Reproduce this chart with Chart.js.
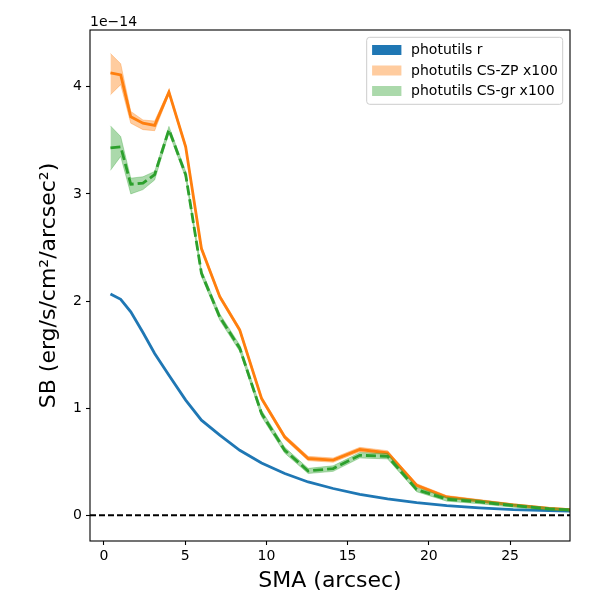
<!DOCTYPE html>
<html>
<head>
<meta charset="utf-8">
<script src="https://cdn.jsdelivr.net/npm/chart.js@4/dist/chart.umd.min.js"></script>
<style>
  html, body { margin: 0; padding: 0; background: #fff; }
  #wrap { width: 600px; height: 600px; position: relative; }
</style>
</head>
<body>
<div id="wrap"><canvas id="sbChart"></canvas></div>
<script>
// surface brightness profiles, values in units of 1e-14
const sma = [0.4, 1.03, 1.65, 2.4, 3.12, 4.0, 5.03, 6.0, 7.13, 8.36, 9.7, 11.13, 12.57, 14.11, 15.75, 17.46, 19.25, 21.1, 23.1, 25.2, 27.4, 29.8];

const photR = [2.065, 2.016, 1.90, 1.706, 1.51, 1.307, 1.075, 0.888, 0.748, 0.607, 0.489, 0.39, 0.311, 0.25, 0.196, 0.153, 0.118, 0.09, 0.07, 0.052, 0.043, 0.035];

const csZP = [4.13, 4.11, 3.72, 3.66, 3.64, 3.95, 3.44, 2.49, 2.04, 1.73, 1.09, 0.73, 0.53, 0.515, 0.614, 0.583, 0.28, 0.171, 0.135, 0.096, 0.065, 0.04];
const csZPLo = [3.925, 4.02, 3.66, 3.60, 3.59, 3.93, 3.42, 2.47, 2.02, 1.71, 1.07, 0.71, 0.51, 0.495, 0.594, 0.563, 0.265, 0.158, 0.123, 0.085, 0.056, 0.032];
const csZPHi = [4.31, 4.215, 3.77, 3.69, 3.68, 3.97, 3.46, 2.51, 2.06, 1.75, 1.11, 0.75, 0.55, 0.535, 0.634, 0.603, 0.295, 0.184, 0.147, 0.107, 0.074, 0.048];

const csGR = [3.43, 3.44, 3.09, 3.10, 3.18, 3.60, 3.18, 2.26, 1.85, 1.56, 0.95, 0.607, 0.414, 0.436, 0.56, 0.551, 0.24, 0.15, 0.125, 0.09, 0.06, 0.04];
const csGRLo = [3.22, 3.35, 3.00, 3.04, 3.13, 3.57, 3.15, 2.23, 1.82, 1.53, 0.92, 0.58, 0.39, 0.41, 0.535, 0.526, 0.22, 0.132, 0.108, 0.075, 0.048, 0.03];
const csGRHi = [3.635, 3.535, 3.147, 3.16, 3.21, 3.63, 3.21, 2.29, 1.88, 1.59, 0.98, 0.634, 0.438, 0.462, 0.585, 0.576, 0.26, 0.168, 0.142, 0.105, 0.072, 0.05];

const seriesNames = ["photutils r", "photutils CS-ZP x100", "photutils CS-gr x100"];
const xTicks = [0, 5, 10, 15, 20, 25];
const yTicks = [0, 1, 2, 3, 4];

const FONT = "'DejaVu Sans', sans-serif";
const BLUE = "#1f77b4", ORANGE = "#ff7f0e", GREEN = "#2ca02c";
const ORANGE_FILL = "rgba(255,127,14,0.4)", GREEN_FILL = "rgba(44,160,44,0.4)";

const pts = ys => sma.map((x, i) => ({ x: x, y: ys[i] }));

function lineSet(label, ys, color, order, dash) {
  return {
    label: label, data: pts(ys), borderColor: color, borderWidth: 2.8,
    borderDash: dash || [], pointRadius: 0, tension: 0, fill: false,
    order: order, clip: 0
  };
}
function bandEdge(ys, color, order, fill) {
  return {
    label: "", data: pts(ys), borderColor: color, borderWidth: 0.8,
    backgroundColor: color, pointRadius: 0, tension: 0, fill: fill,
    order: order, clip: 0
  };
}

// matplotlib-ish frame, axhline at 0, offset text and legend
const extras = {
  id: "extras",
  beforeDatasetsDraw(chart) {
    const { ctx, chartArea: a, scales } = chart;
    const y0 = scales.y.getPixelForValue(0);
    ctx.save();
    ctx.strokeStyle = "#000";
    ctx.lineWidth = 2;
    ctx.setLineDash([6, 3]);
    ctx.beginPath();
    ctx.moveTo(a.left, y0);
    ctx.lineTo(a.right, y0);
    ctx.stroke();
    ctx.restore();
  },
  afterDraw(chart) {
    const { ctx, chartArea: a } = chart;
    ctx.save();
    ctx.strokeStyle = "#000";
    ctx.lineWidth = 1.1;
    ctx.strokeRect(a.left, a.top, a.right - a.left, a.bottom - a.top);

    ctx.fillStyle = "#000";
    ctx.font = "14px " + FONT;
    ctx.textAlign = "left";
    ctx.textBaseline = "alphabetic";
    ctx.fillText("1e\u221214", a.left, a.top - 4);

    // legend box
    const w = 196, h = 67;
    const bx = a.right - 7.3 - w, by = a.top + 7.3;
    ctx.beginPath();
    ctx.roundRect(bx, by, w, h, 3);
    ctx.fillStyle = "rgba(255,255,255,0.8)";
    ctx.fill();
    ctx.strokeStyle = "#cccccc";
    ctx.lineWidth = 1;
    ctx.stroke();

    const fills = [BLUE, ORANGE_FILL, GREEN_FILL];
    seriesNames.forEach((name, i) => {
      const cy = by + 12.7 + i * 20.5;
      ctx.fillStyle = fills[i];
      ctx.fillRect(bx + 5.4, cy - 5, 29.3, 10);
      ctx.fillStyle = "#000";
      ctx.font = "14px " + FONT;
      ctx.textBaseline = "middle";
      ctx.fillText(name, bx + 44.4, cy + 0.5);
    });
    ctx.restore();
  }
};

const ctx = document.getElementById("sbChart").getContext("2d");
new Chart(ctx, {
  type: "line",
  data: {
    datasets: [
      lineSet(seriesNames[0], photR, BLUE, 5),
      bandEdge(csZPLo, ORANGE_FILL, 4, false),
      bandEdge(csZPHi, ORANGE_FILL, 4, "-1"),
      lineSet(seriesNames[1], csZP, ORANGE, 3),
      bandEdge(csGRLo, GREEN_FILL, 2, false),
      bandEdge(csGRHi, GREEN_FILL, 2, "-1"),
      lineSet(seriesNames[2], csGR, GREEN, 1, [10, 4])
    ]
  },
  options: {
    responsive: true,
    maintainAspectRatio: false,
    animation: false,
    devicePixelRatio: 1,
    layout: { padding: { top: 30, right: 30, left: 0, bottom: 0 } },
    plugins: {
      legend: { display: false },
      tooltip: { enabled: false }
    },
    scales: {
      x: {
        type: "linear",
        min: -0.86,
        max: 28.69,
        afterFit: s => { s.height = 59; },
        afterBuildTicks: s => { s.ticks = xTicks.map(v => ({ value: v })); },
        border: { display: false },
        grid: { drawOnChartArea: false, drawTicks: true, tickLength: 4, tickColor: "#000", tickWidth: 1.1 },
        ticks: { color: "#000", font: { family: FONT, size: 14 }, padding: 3, maxRotation: 0 },
        title: { display: true, text: "SMA (arcsec)", color: "#000", font: { family: FONT, size: 22 }, padding: { top: 0, bottom: 6 } }
      },
      y: {
        type: "linear",
        min: -0.24,
        max: 4.53,
        afterFit: s => { s.width = 90; },
        afterBuildTicks: s => { s.ticks = yTicks.map(v => ({ value: v })); },
        border: { display: false },
        grid: { drawOnChartArea: false, drawTicks: true, tickLength: 4, tickColor: "#000", tickWidth: 1.1 },
        ticks: { color: "#000", font: { family: FONT, size: 14 }, padding: 4 },
        title: { display: true, text: "SB (erg/s/cm\u00b2/arcsec\u00b2)", color: "#000", font: { family: FONT, size: 22 }, padding: { top: 36, bottom: 0 } }
      }
    }
  },
  plugins: [extras]
});
</script>
</body>
</html>
